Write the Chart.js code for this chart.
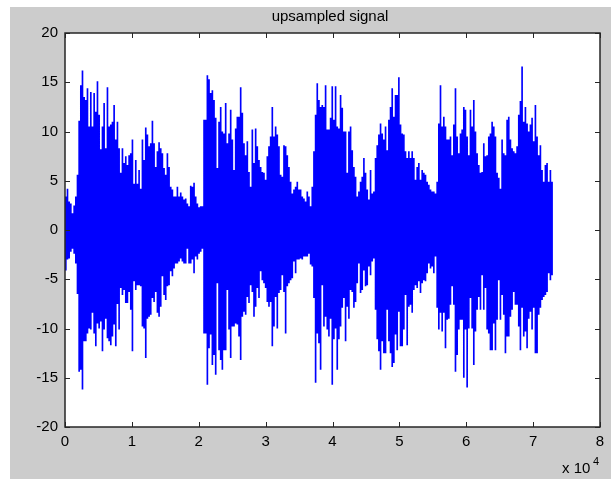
<!DOCTYPE html>
<html>
<head>
<meta charset="utf-8">
<script src="https://cdn.jsdelivr.net/npm/chart.js@4/dist/chart.umd.min.js"></script>
<style>
  html, body { margin: 0; padding: 0; background: #fff; }
  #wrap { width: 611px; height: 479px; }
</style>
</head>
<body>
<div id="wrap"><canvas id="signal-chart" width="611" height="479"></canvas></div>
<script>
// samples between envelope readings
const sampleStep = 249;

// upper envelope of the signal
const upperEnvelope = [
  3.4, 4.2, 2.9, 2.7, 1.7, 2.5, 3.4, 5.6, 11.1, 14.7,
  16.2, 13.5, 13.2, 14.4, 10.5, 14.0, 10.5, 13.9, 12.0, 15.1,
  11.7, 8.2, 10.5, 12.9, 8.3, 14.5, 10.5, 10.7, 11.0, 12.7,
  9.2, 11.0, 8.3, 5.8, 8.3, 6.8, 7.5, 6.6, 7.6, 7.8,
  9.2, 4.7, 7.1, 4.7, 6.1, 4.2, 9.2, 7.1, 10.4, 9.7,
  8.5, 8.8, 11.1, 8.8, 6.4, 8.0, 8.9, 8.3, 7.8, 6.3,
  5.6, 7.8, 6.4, 4.4, 4.1, 3.4, 3.4, 4.4, 3.4, 3.8,
  3.4, 3.1, 3.2, 2.7, 2.4, 4.5, 4.4, 4.8, 3.4, 2.7,
  2.3, 2.4, 2.4, 11.2, 11.2, 15.7, 15.3, 13.9, 14.2, 13.2,
  11.4, 6.3, 11.0, 12.5, 10.0, 9.8, 12.9, 8.8, 9.8, 12.2,
  9.2, 6.1, 10.3, 11.5, 11.5, 14.5, 11.9, 8.8, 7.6, 9.0,
  5.9, 4.4, 10.2, 6.8, 10.3, 8.5, 7.1, 6.4, 5.9, 5.8,
  5.1, 7.5, 8.5, 9.5, 12.5, 9.5, 10.5, 9.7, 8.5, 5.6,
  5.4, 8.6, 8.5, 7.6, 6.4, 4.9, 3.7, 4.1, 4.4, 4.9,
  4.1, 4.1, 3.4, 3.2, 2.9, 3.9, 3.4, 2.4, 4.4, 8.0,
  11.7, 14.9, 13.2, 12.5, 12.7, 12.5, 14.7, 10.2, 10.2, 11.4,
  14.6, 11.2, 14.6, 10.5, 10.3, 13.7, 12.4, 10.0, 10.0, 5.8,
  10.0, 10.5, 8.1, 6.4, 5.4, 3.4, 3.9, 4.9, 5.4, 7.3,
  5.8, 4.1, 3.1, 6.1, 3.7, 3.9, 7.3, 8.6, 9.7, 10.8,
  9.8, 9.2, 10.5, 8.1, 11.2, 12.5, 14.4, 11.5, 13.7, 13.7,
  15.5, 10.7, 9.8, 9.7, 8.0, 7.3, 8.0, 7.3, 8.0, 7.3,
  5.1, 6.4, 6.8, 5.1, 6.1, 5.8, 5.6, 4.9, 4.6, 4.1,
  3.9, 3.9, 3.7, 4.9, 10.8, 14.7, 10.5, 11.5, 10.5, 9.2,
  9.2, 9.5, 7.6, 10.7, 14.4, 9.5, 7.8, 9.8, 10.2, 12.5,
  12.2, 9.5, 7.6, 12.2, 10.5, 13.2, 10.0, 7.8, 6.6, 5.8,
  5.9, 8.8, 7.5, 7.6, 9.5, 9.8, 11.0, 10.5, 9.5, 5.8,
  5.3, 4.2, 9.2, 7.8, 7.6, 11.2, 11.5, 9.2, 8.3, 8.0,
  7.8, 8.5, 11.7, 13.1, 16.6, 11.0, 12.5, 10.8, 10.0, 10.7,
  11.4, 9.0, 12.7, 9.5, 7.6, 8.6, 6.1, 4.9, 6.6, 6.8,
  4.9, 6.1, 4.9, 5.4
];

// lower envelope of the signal
const lowerEnvelope = [
  -4.1, -3.0, -2.9, -2.2, -1.9, -2.4, -3.4, -6.5, -14.4, -14.2,
  -16.2, -11.3, -11.3, -10.5, -10.0, -10.1, -8.4, -10.5, -11.8, -9.5,
  -10.0, -9.3, -12.3, -10.1, -9.0, -11.0, -11.3, -11.7, -10.8, -9.6,
  -11.8, -7.5, -10.1, -5.9, -6.6, -6.1, -7.4, -7.4, -6.3, -8.1,
  -12.3, -5.2, -6.1, -5.6, -5.6, -5.7, -9.8, -10.0, -13.0, -9.0,
  -8.8, -8.6, -6.9, -7.3, -6.3, -8.4, -8.8, -7.8, -4.7, -6.6,
  -7.1, -5.7, -5.6, -4.2, -4.7, -3.9, -3.4, -3.4, -3.2, -2.9,
  -3.2, -3.4, -3.4, -1.9, -3.4, -3.4, -3.0, -4.4, -2.7, -3.0,
  -2.4, -2.2, -1.9, -10.5, -10.5, -15.7, -12.0, -10.6, -13.7, -12.7,
  -14.7, -5.4, -12.2, -13.2, -14.2, -12.2, -12.2, -6.1, -10.1, -13.0,
  -9.8, -9.8, -9.5, -9.6, -10.8, -13.2, -8.8, -8.3, -8.6, -6.8,
  -7.4, -5.6, -6.3, -8.8, -7.8, -5.9, -6.9, -4.2, -5.1, -5.4,
  -5.9, -7.3, -7.8, -7.3, -11.8, -9.8, -6.8, -10.0, -6.4, -6.1,
  -4.6, -6.3, -10.5, -5.7, -5.4, -5.1, -4.9, -3.2, -4.4, -3.0,
  -3.0, -2.9, -3.0, -2.7, -2.7, -2.7, -2.4, -3.5, -3.7, -6.9,
  -15.5, -10.5, -11.5, -14.2, -5.6, -9.8, -8.8, -10.1, -10.8, -9.0,
  -15.7, -11.1, -10.0, -14.2, -11.1, -9.8, -7.9, -6.9, -11.3, -7.8,
  -9.0, -6.1, -6.3, -7.9, -7.3, -5.4, -3.4, -6.4, -6.1, -4.1,
  -5.7, -5.6, -3.7, -4.6, -3.2, -2.9, -8.1, -11.1, -12.3, -14.2,
  -11.3, -12.5, -12.5, -8.1, -11.3, -12.5, -13.9, -13.5, -10.6, -12.2,
  -8.3, -11.8, -11.8, -10.1, -6.6, -11.7, -7.8, -7.6, -8.4, -6.1,
  -5.6, -5.9, -5.2, -6.4, -5.4, -5.1, -5.2, -4.4, -3.4, -3.9,
  -3.7, -4.4, -2.7, -7.9, -10.1, -8.4, -10.3, -8.4, -12.0, -9.1,
  -9.0, -7.6, -5.7, -7.6, -14.4, -12.7, -10.1, -9.1, -9.1, -15.0,
  -10.1, -16.0, -10.0, -6.9, -10.0, -13.7, -10.3, -8.1, -6.8, -8.1,
  -4.6, -8.1, -5.9, -10.1, -10.5, -12.2, -12.2, -9.5, -12.2, -9.1,
  -5.1, -9.1, -6.6, -8.6, -12.5, -10.8, -10.8, -8.8, -8.1, -6.3,
  -7.6, -7.6, -9.8, -12.2, -7.9, -10.8, -10.3, -12.0, -9.0, -8.3,
  -10.1, -7.9, -12.5, -12.5, -8.6, -7.9, -7.1, -6.8, -6.6, -6.3,
  -4.4, -5.1, -4.6, -5.4
];

// tick labels (x in units of 10^4)
const xTickLabels = [0, 1, 2, 3, 4, 5, 6, 7, 8];
const yTickLabels = [-20, -15, -10, -5, 0, 5, 10, 15, 20];

const axisColor = '#262626';
const font = { family: 'Liberation Sans, Arial, sans-serif', size: 15 };

function toPoints(values) {
    return values.map((v, i) => ({ x: i * sampleStep, y: v }));
}

// gray figure, white axes, title and inward ticks like matlab
const matlabFrame = {
    id: 'matlabFrame',
    beforeDraw(chart) {
        const ctx = chart.ctx;
        const a = chart.chartArea;
        ctx.save();
        ctx.fillStyle = '#ffffff';
        ctx.fillRect(0, 0, chart.width, chart.height);
        ctx.fillStyle = '#cccccc';
        ctx.fillRect(10, 7, chart.width - 10, chart.height - 7);
        ctx.fillStyle = '#ffffff';
        ctx.fillRect(a.left, a.top, a.right - a.left, a.bottom - a.top);
        ctx.restore();
    },
    afterDraw(chart) {
        const ctx = chart.ctx;
        const a = chart.chartArea;
        const xs = chart.scales.x;
        const ys = chart.scales.y;
        ctx.save();
        ctx.strokeStyle = axisColor;
        ctx.lineWidth = 1;
        ctx.beginPath();
        xs.ticks.forEach(t => {
            const px = Math.round(xs.getPixelForValue(t.value)) + 0.5;
            ctx.moveTo(px, a.bottom); ctx.lineTo(px, a.bottom - 5);
            ctx.moveTo(px, a.top); ctx.lineTo(px, a.top + 5);
        });
        ys.ticks.forEach(t => {
            const py = Math.round(ys.getPixelForValue(t.value)) + 0.5;
            ctx.moveTo(a.left, py); ctx.lineTo(a.left + 5, py);
            ctx.moveTo(a.right, py); ctx.lineTo(a.right - 5, py);
        });
        ctx.stroke();
        ctx.lineWidth = 1.5;
        ctx.strokeRect(a.left, a.top, a.right - a.left, a.bottom - a.top);

        ctx.fillStyle = '#000000';
        ctx.font = '15px ' + font.family;
        ctx.textAlign = 'center';
        ctx.textBaseline = 'alphabetic';
        ctx.fillText('upsampled signal', 330, 21);
        ctx.textAlign = 'left';
        ctx.fillText('x 10', 562, 473);
        ctx.font = '11px ' + font.family;
        ctx.fillText('4', 593, 465);
        ctx.restore();
    }
};

const data = {
    datasets: [{
        label: 'upper',
        data: toPoints(upperEnvelope),
        borderColor: '#0000ff',
        backgroundColor: '#0000ff',
        borderWidth: 0,
        pointRadius: 0,
        stepped: true,
        fill: 'origin'
    }, {
        label: 'lower',
        data: toPoints(lowerEnvelope),
        borderColor: '#0000ff',
        backgroundColor: '#0000ff',
        borderWidth: 0,
        pointRadius: 0,
        stepped: true,
        fill: 'origin'
    }]
};

const options = {
    animation: false,
    responsive: false,
    layout: { padding: { left: 10, right: 11, top: 33, bottom: 0 } },
    plugins: {
        legend: { display: false },
        tooltip: { enabled: false }
    },
    scales: {
        x: {
            type: 'linear',
            min: 0,
            max: 80000,
            afterBuildTicks: s => { s.ticks = xTickLabels.map(v => ({ value: v * 10000 })); },
            afterFit: s => { s.height = 52; },
            ticks: {
                callback: v => String(v / 10000),
                color: '#000000',
                font,
                padding: 6,
                maxRotation: 0,
                autoSkip: false
            },
            grid: { display: false, drawTicks: false, tickLength: 0 },
            border: { display: false }
        },
        y: {
            min: -20,
            max: 20,
            afterBuildTicks: s => { s.ticks = yTickLabels.map(v => ({ value: v })); },
            afterFit: s => { s.width = 55; },
            ticks: {
                color: '#000000',
                font,
                padding: 7,
                autoSkip: false
            },
            grid: { display: false, drawTicks: false, tickLength: 0 },
            border: { display: false }
        }
    }
};

const signalChart = new Chart(
    document.querySelector('#signal-chart'),
    { type: 'line', data, options, plugins: [matlabFrame] }
);
</script>
</body>
</html>
